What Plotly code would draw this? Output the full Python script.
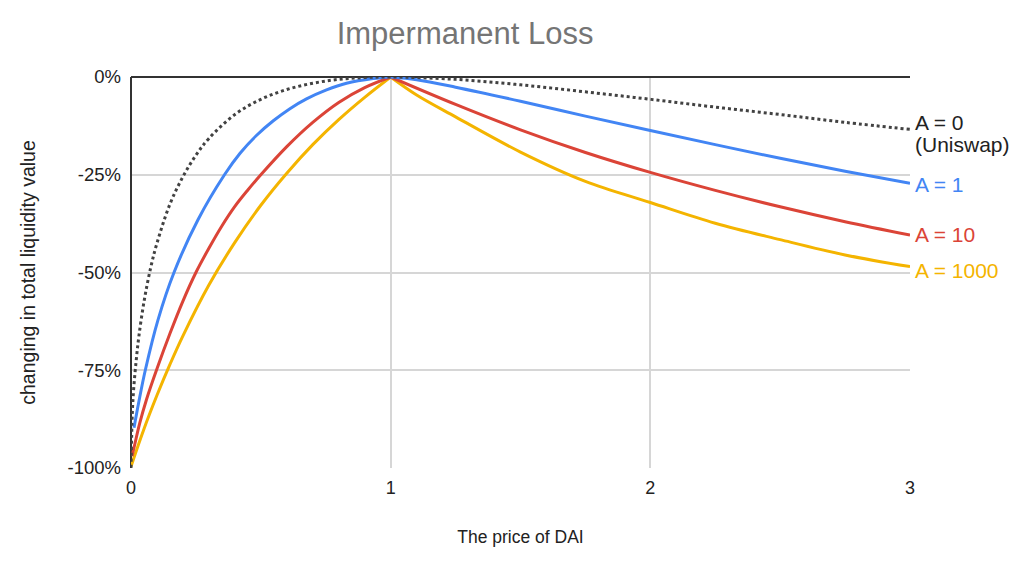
import plotly.graph_objects as go

# ---- data (y in percent) ----
uni_x = [0, 0.005, 0.01, 0.02, 0.03, 0.05, 0.075, 0.1, 0.15, 0.2, 0.25, 0.3, 0.4, 0.5,
         0.6, 0.7, 0.8, 0.9, 1, 1.25, 1.5, 1.75, 2, 2.25, 2.5, 2.75, 3]
uni_y = [-100, -86, -80, -72.5, -66.5, -57.5, -49, -42.5, -32.5, -25.5, -20, -15.7, -9.6, -5.7,
         -3.2, -1.6, -0.6, -0.15, 0, -0.6, -2.0, -3.8, -5.7, -7.7, -9.6, -11.6, -13.4]

a1_left_x = [0.0116, 0.0295, 0.055, 0.104, 0.1656, 0.258, 0.36, 0.42, 0.484, 0.548,
             0.612, 0.676, 0.753, 0.83, 0.933, 1]
a1_left_y = [-89.7, -83.3, -75, -62.1, -50, -36.5, -25, -19.5, -14.9, -11.2,
             -8.1, -5.6, -3.3, -1.6, -0.4, 0]
a1_right_x = [1, 1.1, 1.25, 1.5, 1.75, 2, 2.25, 2.5, 2.75, 3]
a1_right_y = [0, -0.7, -2.6, -6.2, -10.0, -13.7, -17.3, -20.8, -24.1, -27.2]

a10_left_x = [0.004, 0.015, 0.0334, 0.06, 0.1, 0.15, 0.2, 0.25, 0.3, 0.35, 0.4, 0.45,
              0.5, 0.6, 0.7, 0.8, 0.9, 1]
a10_left_y = [-97, -93.8, -88.6, -82.4, -74.6, -65.6, -57.3, -50, -43.8, -38.1, -33.1, -28.9,
              -25, -17.8, -11.6, -6.5, -2.7, 0]
a10_right_x = [1, 1.25, 1.5, 1.75, 2, 2.25, 2.5, 2.75, 3]
a10_right_y = [0, -7.0, -13.5, -19.3, -24.4, -29.0, -33.2, -37.0, -40.4]

a1000_left_x = [0, 0.05, 0.1, 0.15, 0.2, 0.3, 0.4, 0.5, 0.6, 0.7, 0.8, 0.9, 1]
a1000_left_y = [-99.6, -90, -81.4, -73.5, -66.2, -53.2, -42.3, -32.8, -24.6, -17.3, -10.9, -5.2, 0]
a1000_right_x = [1, 1.1, 1.25, 1.5, 1.75, 2, 2.25, 2.5, 2.75, 3]
a1000_right_y = [0, -4.6, -10.2, -19.2, -26.7, -32.1, -37.4, -41.6, -45.5, -48.5]

x_ticks = [0, 1, 2, 3]
y_ticks = [0, -25, -50, -75, -100]
y_tick_labels = ["0%", "-25%", "-50%", "-75%", "-100%"]

series_labels = ["A = 0", "(Uniswap)", "A = 1", "A = 10", "A = 1000"]
label_y = [-11.6, -17.3, -27.6, -40.4, -49.6]

# ---- styles ----
C_UNI = "#424242"
C_A1 = "#4285F4"
C_A10 = "#DB4437"
C_A1000 = "#F4B400"
FONT = "Liberation Sans, Arial, Helvetica, sans-serif"

fig = go.Figure()

def add(x, y, color, dash="solid"):
    fig.add_trace(go.Scatter(
        x=x, y=y, mode="lines",
        line=dict(color=color, width=3, dash=dash, shape="spline", smoothing=1.0),
        showlegend=False, hoverinfo="skip"))

add(a1000_left_x, a1000_left_y, C_A1000)
add(a1000_right_x, a1000_right_y, C_A1000)
add(a10_left_x, a10_left_y, C_A10)
add(a10_right_x, a10_right_y, C_A10)
add(a1_left_x, a1_left_y, C_A1)
add(a1_right_x, a1_right_y, C_A1)
add(uni_x, uni_y, C_UNI, dash="dot")

label_colors = ["#222222", "#222222", C_A1, C_A10, C_A1000]
for txt, yv, col in zip(series_labels, label_y, label_colors):
    fig.add_annotation(x=3, y=yv, xref="x", yref="y", text=txt, showarrow=False,
                       xanchor="left", yanchor="middle", xshift=3, align="left",
                       font=dict(family=FONT, size=21, color=col))

fig.update_layout(
    width=1024, height=564,
    margin=dict(l=131, r=114, t=77, b=96, autoexpand=False),
    paper_bgcolor="white", plot_bgcolor="white",
    font=dict(family=FONT, color="#222222"),
    title=dict(text="Impermanent Loss", x=0.4288, xref="paper", xanchor="center",
               y=1 - 33 / 564, yref="container", yanchor="middle",
               font=dict(family=FONT, size=31, color="#757575")),
)
fig.update_xaxes(
    range=[0, 3], tickvals=x_ticks, ticks="", showgrid=True, gridcolor="#d6d6d6", gridwidth=1.5,
    zeroline=True, zerolinecolor="#333333", zerolinewidth=1.5, showline=False,
    automargin=False, ticklabelstandoff=7,
    tickfont=dict(family=FONT, size=18, color="#222222"),
    title=dict(text="The price of DAI", standoff=33, font=dict(family=FONT, size=17.5, color="#222222")),
)
fig.update_yaxes(
    range=[-100, 0], tickvals=y_ticks, ticktext=y_tick_labels, ticks="",
    showgrid=True, gridcolor="#d6d6d6", gridwidth=1.5,
    zeroline=True, zerolinecolor="#333333", zerolinewidth=1.5, showline=False,
    automargin=False, ticklabelstandoff=9,
    tickfont=dict(family=FONT, size=18.5, color="#222222"),
    title=dict(text="changing in total liquidity value", standoff=26,
               font=dict(family=FONT, size=19.5, color="#222222")),
)

fig.write_html("out.html", config={"displayModeBar": False},
               post_script="document.body.style.margin='0';")
